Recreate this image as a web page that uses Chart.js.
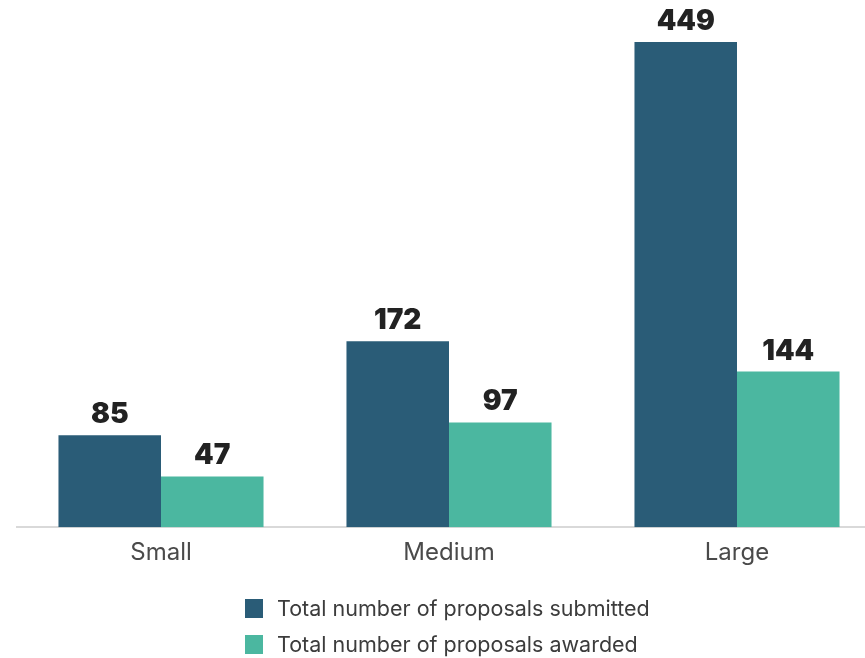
<!DOCTYPE html>
<html>
<head>
<meta charset="utf-8">
<script src="https://cdn.jsdelivr.net/npm/chart.js@4.4.1/dist/chart.umd.min.js"></script>
<style>
  html, body { margin: 0; padding: 0; background: #fff; overflow: hidden; }
  #wrap { position: relative; width: 898px; height: 658px; }
  #legend { position: absolute; left: 245px; top: 590px; font-family: Inter, sans-serif; font-size: 21.5px; color: #3c3c3c; }
  #legend div { display: flex; align-items: center; height: 36px; }
  #legend span.box { display: inline-block; width: 18px; height: 19px; margin-right: 14px; }
</style>
</head>
<body>
<div id="wrap">
  <canvas id="myChart"></canvas>
  <div id="legend"></div>
</div>
<script>
const sizes = ["Small", "Medium", "Large"];
const submitted = [85, 172, 449];
const awarded = [47, 97, 144];
const seriesNames = ["Total number of proposals submitted", "Total number of proposals awarded"];
const seriesColors = ["#2a5c77", "#4bb7a0"];

// writes the value above each bar
const valueLabels = {
  id: "valueLabels",
  afterDatasetsDraw(chart) {
    const ctx = chart.ctx;
    ctx.save();
    ctx.font = "900 28px Inter, sans-serif";
    ctx.fillStyle = "#222";
    ctx.textAlign = "center";
    ctx.textBaseline = "alphabetic";
    chart.data.datasets.forEach((ds, i) => {
      chart.getDatasetMeta(i).data.forEach((bar, j) => {
        ctx.fillText(ds.data[j], bar.x, bar.y - 12);
      });
    });
    ctx.restore();
  }
};

const ctx = document.getElementById("myChart").getContext("2d");
const chart = new Chart(ctx, {
  type: "bar",
  data: {
    labels: sizes,
    datasets: [
      { label: seriesNames[0], data: submitted, backgroundColor: seriesColors[0] },
      { label: seriesNames[1], data: awarded, backgroundColor: seriesColors[1] }
    ]
  },
  options: {
    responsive: true,
    maintainAspectRatio: false,
    animation: false,
    layout: { padding: { top: 9, left: 17, right: 17, bottom: 88 } },
    categoryPercentage: 0.712,
    barPercentage: 1.0,
    plugins: { legend: { display: false }, tooltip: { enabled: false } },
    scales: {
      x: {
        grid: { display: false },
        border: { color: "#d9d9d9", width: 2 },
        ticks: { color: "#4a4a4a", font: { family: "Inter, sans-serif", size: 24 }, padding: 3 }
      },
      y: {
        display: false,
        min: 0,
        max: 479.6
      }
    }
  },
  plugins: [valueLabels]
});

const legend = document.getElementById("legend");
chart.data.datasets.forEach((ds) => {
  const row = document.createElement("div");
  row.innerHTML = `<span class="box" style="background:${ds.backgroundColor}"></span>${ds.label}`;
  legend.append(row);
});
</script>
</body>
</html>
